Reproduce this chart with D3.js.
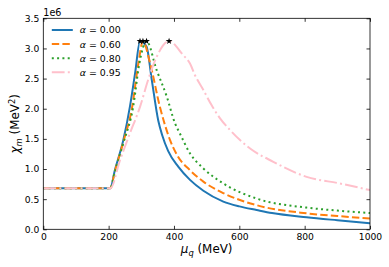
<!DOCTYPE html>
<html>
<head>
<meta charset="utf-8">
<script src="https://cdn.jsdelivr.net/npm/d3@7"></script>
<style>
  body { margin: 0; background: #fff; }
  text { font-family: "DejaVu Sans", sans-serif; }
</style>
</head>
<body>
<svg id="chart" width="389" height="267"></svg>
<script>
// DATA  (mu_q in MeV, chi_m in units of 1e6 MeV^2)

var alpha_labels = ["0.00", "0.60", "0.80", "0.95"];
var line_colors = ["#1f77b4", "#ff7f0e", "#2ca02c", "pink"];

var mu_a000 = [0, 205, 219, 245, 265, 281, 296, 316, 332, 352, 364, 382, 413, 449, 490, 551, 600, 653, 700, 806, 900, 1000];
var chi_a000 = [0.68, 0.68, 0.98, 1.48, 2.03, 2.59, 3.12, 3.03, 2.48, 1.80, 1.56, 1.30, 1.04, 0.82, 0.64, 0.46, 0.38, 0.32, 0.27, 0.20, 0.15, 0.10];

var mu_a060 = [0, 205, 219, 245, 272, 291, 305, 327, 357, 388, 413, 449, 490, 551, 653, 806, 900, 1000];
var chi_a060 = [0.68, 0.68, 0.96, 1.45, 2.03, 2.75, 3.12, 2.75, 2.03, 1.48, 1.20, 0.98, 0.79, 0.60, 0.40, 0.265, 0.22, 0.18];

var mu_a080 = [0, 205, 219, 245, 275, 294, 316, 347, 378, 403, 418, 449, 490, 551, 653, 806, 900, 1000];
var chi_a080 = [0.68, 0.68, 0.95, 1.43, 2.03, 2.75, 3.12, 2.64, 2.2, 1.76, 1.59, 1.26, 1.01, 0.76, 0.51, 0.36, 0.31, 0.27];

var mu_a095 = [0, 205, 235, 265, 296, 321, 347, 385, 428, 449, 464, 490, 515, 541, 571, 633, 704, 806, 908, 1000];
var chi_a095 = [0.68, 0.68, 1.15, 1.59, 2.03, 2.48, 2.86, 3.12, 2.89, 2.75, 2.56, 2.31, 2.06, 1.84, 1.65, 1.34, 1.12, 0.87, 0.76, 0.65];

var peak_mu = [296, 305, 316, 385];
var peak_chi = [3.12, 3.12, 3.12, 3.12];

var x_ticks = [0, 200, 400, 600, 800, 1000];
var y_ticks = [0, 0.5, 1.0, 1.5, 2.0, 2.5, 3.0, 3.5];

// LAYOUT

var width = 389, height = 267;
var margin = {top: 18.3, right: 19, bottom: 37.7, left: 43.3};
var plot_w = width - margin.left - margin.right;
var plot_h = height - margin.top - margin.bottom;

var svg = d3.select("#chart");
var g = svg.append("g").attr("transform", "translate(" + margin.left + "," + margin.top + ")");

var x = d3.scaleLinear().domain([0, 1000]).range([0, plot_w]);
var y = d3.scaleLinear().domain([0, 3.5]).range([plot_h, 0]);

var series = [
  {mu: mu_a000, chi: chi_a000, dash: null},
  {mu: mu_a060, chi: chi_a060, dash: "7.4,3.2"},
  {mu: mu_a080, chi: chi_a080, dash: "2,3.3"},
  {mu: mu_a095, chi: chi_a095, dash: "12.8,3.2,2,3.2"}
];

var line = d3.line()
  .x(function(d){ return x(d[0]); })
  .y(function(d){ return y(d[1]); })
  .curve(d3.curveMonotoneX);

svg.append("clipPath").attr("id", "plot_clip")
  .append("rect").attr("width", plot_w).attr("height", plot_h);

series.forEach(function(s, i){
  var pts = s.mu.map(function(m, j){ return [m, s.chi[j]]; });
  g.append("path")
    .attr("d", line(pts))
    .attr("fill", "none")
    .attr("stroke", line_colors[i])
    .attr("stroke-width", 2)
    .attr("stroke-dasharray", s.dash)
    .attr("clip-path", "url(#plot_clip)");
});

// peak markers
var star = d3.symbol().type(d3.symbolStar).size(14);
peak_mu.forEach(function(m, i){
  g.append("path")
    .attr("d", star())
    .attr("transform", "translate(" + x(m) + "," + y(peak_chi[i]) + ")")
    .attr("fill", "black");
});

// AXES (ticks inside, on all four sides)

function style_axis(sel){
  sel.select(".domain").remove();
  sel.selectAll(".tick line").attr("stroke", "#000").attr("stroke-width", 0.8);
  sel.selectAll(".tick text").attr("font-size", "9.2px").attr("fill", "#000").style("font-family", "DejaVu Sans");
}

g.append("g").attr("transform", "translate(0," + plot_h + ")")
  .call(d3.axisBottom(x).tickValues(x_ticks).tickSize(-3.5).tickPadding(4).tickFormat(d3.format("d")))
  .call(style_axis);

g.append("g")
  .call(d3.axisTop(x).tickValues(x_ticks).tickSize(-3.5).tickFormat(""))
  .call(style_axis);

g.append("g")
  .call(d3.axisLeft(y).tickValues(y_ticks).tickSize(-3.5).tickPadding(4).tickFormat(d3.format(".1f")))
  .call(style_axis);

g.append("g").attr("transform", "translate(" + plot_w + ",0)")
  .call(d3.axisRight(y).tickValues(y_ticks).tickSize(-3.5).tickFormat(""))
  .call(style_axis);

g.append("rect")
  .attr("width", plot_w).attr("height", plot_h)
  .attr("fill", "none").attr("stroke", "#000").attr("stroke-width", 0.8);

// offset text
g.append("text").attr("x", 0).attr("y", -2.5).attr("font-size", "9.6px").text("1e6");

// axis labels
var xl = svg.append("text")
  .attr("x", margin.left + plot_w / 2).attr("y", 253)
  .attr("text-anchor", "middle").attr("font-size", "11.9px");
xl.append("tspan").attr("font-style", "italic").text("μ");
xl.append("tspan").attr("font-style", "italic").attr("font-size", "8.4px").attr("dy", 2.6).text("q");
xl.append("tspan").attr("dy", -2.6).text(" (MeV)");

var yl = svg.append("text")
  .attr("transform", "translate(19," + (margin.top + plot_h / 2) + ") rotate(-90)")
  .attr("text-anchor", "middle").attr("font-size", "11.9px");
yl.append("tspan").attr("font-style", "italic").text("χ");
yl.append("tspan").attr("font-style", "italic").attr("font-size", "8.4px").attr("dy", 2.6).text("m");
yl.append("tspan").attr("dy", -2.6).text(" (MeV");
yl.append("tspan").attr("font-size", "8.4px").attr("dy", -4.5).text("2");
yl.append("tspan").attr("dy", 4.5).text(")");

// LEGEND

var legend = g.append("g").attr("transform", "translate(8.5,11.7)");
series.forEach(function(s, i){
  var row = legend.append("g").attr("transform", "translate(0," + (i * 14.1) + ")");
  row.append("line")
    .attr("x1", 0).attr("x2", 21)
    .attr("stroke", line_colors[i]).attr("stroke-width", 2)
    .attr("stroke-dasharray", s.dash);
  var t = row.append("text").attr("x", 28).attr("y", 3.4).attr("font-size", "9.4px");
  t.append("tspan").attr("font-style", "italic").text("α");
  t.append("tspan").text(" = " + alpha_labels[i]);
});
</script>
</body>
</html>
